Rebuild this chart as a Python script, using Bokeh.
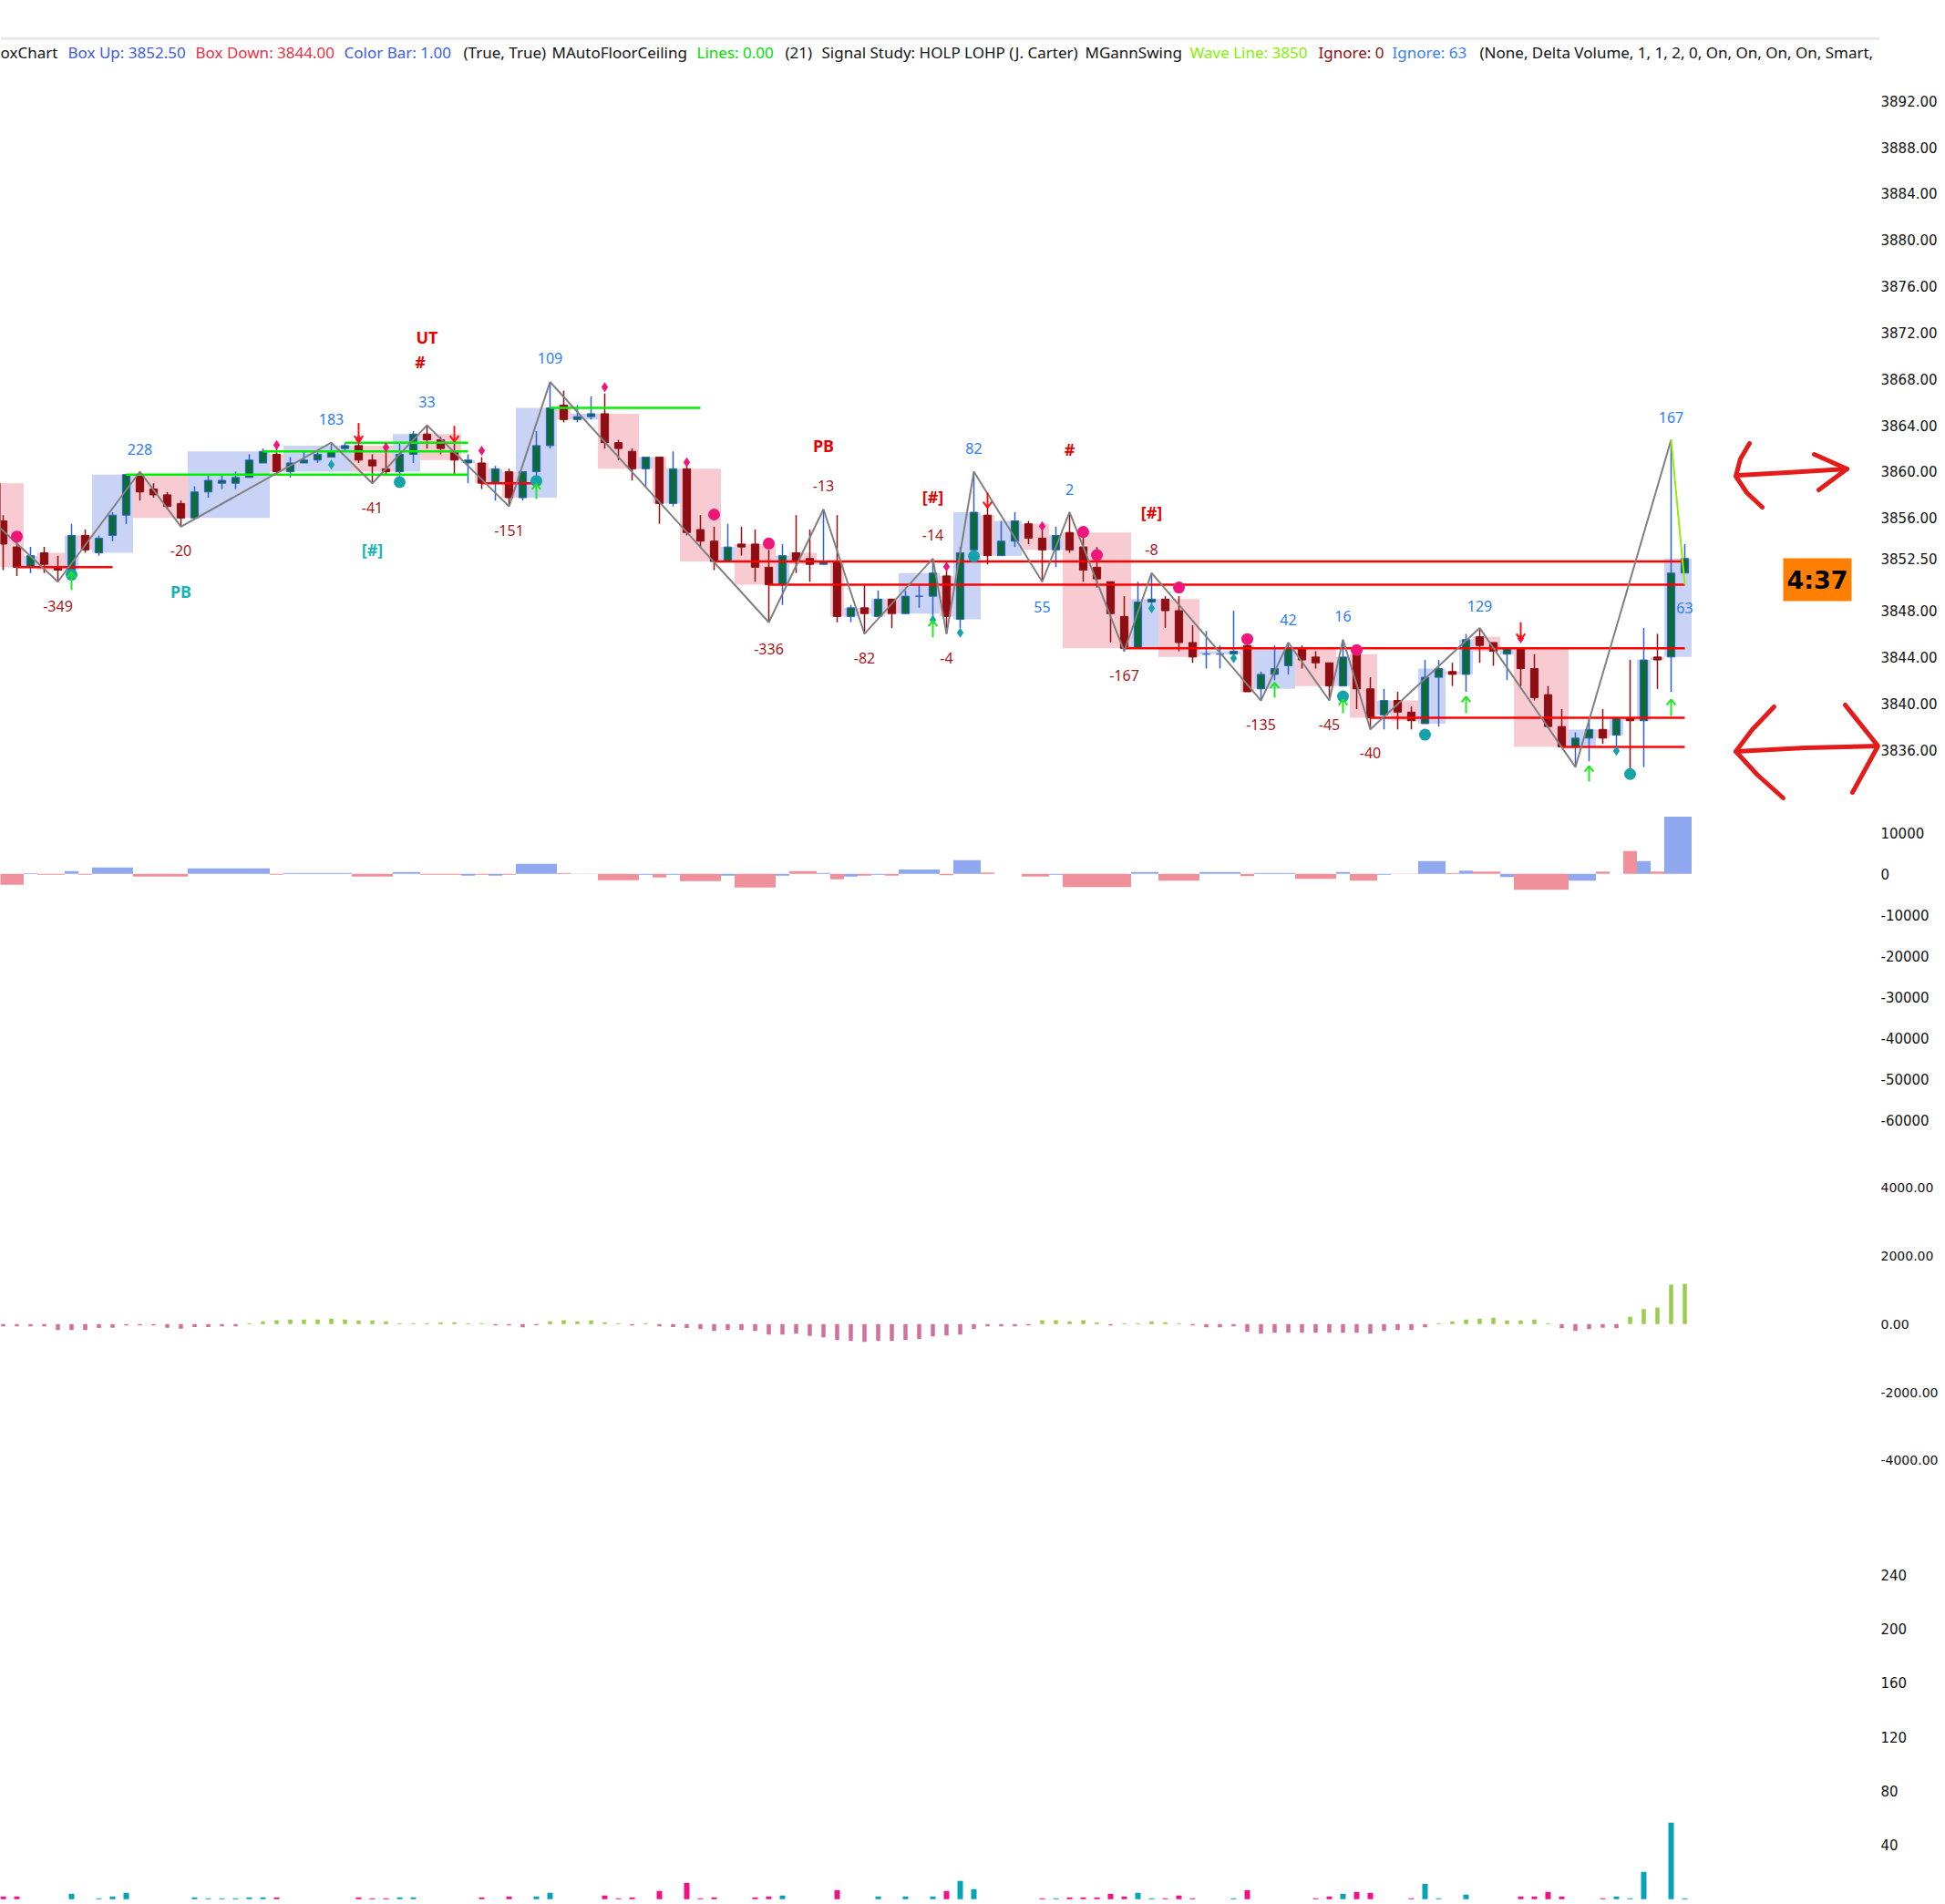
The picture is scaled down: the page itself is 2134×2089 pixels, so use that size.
import numpy as np
from bokeh.plotting import figure
from bokeh.models import Range1d, FixedTicker, PrintfTickFormatter, Span, ColumnDataSource
from bokeh.layouts import column
from bokeh.embed import file_html
from bokeh.resources import INLINE
from bokeh.core.properties import value

# ------------------------------------------------------------------ data
FIRST_BAR = -1   # first candle index (one bar just left of the view)
opens = [3859.0,
 3855.75, 3853.5, 3851.75, 3853.0, 3851.75, 3851.5, 3854.5, 3853.0, 3854.5, 3856.25,
 3859.75, 3858.5, 3858.0, 3857.25, 3856.0, 3858.25, 3859.0, 3859.0, 3859.5, 3860.75,
 3861.5, 3860.0, 3860.75, 3861.0, 3861.25, 3862.0, 3862.25, 3861.0, 3860.25, 3860.0,
 3861.5, 3863.25, 3862.75, 3861.75, 3860.75, 3860.75, 3859.0, 3860.0, 3857.75, 3860.0,
 3862.25, 3865.75, 3864.5, 3864.75, 3865.0, 3862.5, 3861.75, 3860.25, 3861.25, 3857.25,
 3860.25, 3855.0, 3854.0, 3852.25, 3853.75, 3853.75, 3851.75, 3850.25, 3853.0, 3852.5,
 3852.0, 3852.25, 3847.5, 3848.25, 3847.5, 3849.0, 3847.75, 3849.25, 3849.25, 3851.0,
 3847.25, 3853.25, 3856.25, 3852.75, 3854.0, 3855.5, 3854.25, 3853.25, 3854.75, 3853.5,
 3851.75, 3850.5, 3847.5, 3844.75, 3848.75, 3849.0, 3848.0, 3845.25, 3844.25, 3844.25,
 3844.25, 3845.0, 3841.25, 3842.5, 3843.25, 3844.75, 3844.0, 3843.5, 3841.5, 3844.25,
 3841.25, 3839.0, 3840.25, 3839.25, 3838.25, 3842.25, 3842.75, 3842.5, 3845.75, 3845.25,
 3844.25, 3844.75, 3843.0, 3840.75, 3838.0, 3836.25, 3837.0, 3837.75, 3837.25, 3838.75,
 3838.5, 3844.0, 3844.0, 3851.25]
highs = [3859.25,
 3856.25, 3854.0, 3853.5, 3853.5, 3852.75, 3855.5, 3855.0, 3854.5, 3856.5, 3859.75,
 3860.0, 3859.0, 3858.25, 3857.5, 3858.75, 3859.75, 3859.75, 3860.0, 3861.5, 3862.0,
 3862.0, 3861.25, 3861.75, 3861.75, 3862.5, 3862.5, 3862.75, 3861.5, 3862.0, 3862.5,
 3863.5, 3864.0, 3863.0, 3862.5, 3861.5, 3861.25, 3860.5, 3860.25, 3860.0, 3863.5,
 3867.75, 3867.0, 3865.75, 3866.5, 3866.75, 3862.75, 3862.0, 3861.25, 3861.25, 3861.75,
 3860.5, 3856.25, 3855.25, 3855.5, 3855.25, 3855.0, 3853.25, 3853.75, 3856.25, 3855.0,
 3856.75, 3856.25, 3848.5, 3850.25, 3849.75, 3849.0, 3849.75, 3850.25, 3852.5, 3851.5,
 3853.5, 3860.0, 3857.0, 3855.75, 3856.5, 3855.75, 3855.25, 3855.25, 3856.5, 3854.75,
 3853.5, 3850.5, 3849.25, 3850.5, 3851.25, 3849.25, 3849.25, 3846.75, 3846.25, 3845.0,
 3848.0, 3845.25, 3842.75, 3845.0, 3845.25, 3845.0, 3844.5, 3843.5, 3845.5, 3844.5,
 3842.25, 3841.25, 3841.0, 3839.75, 3843.75, 3843.75, 3843.5, 3846.0, 3846.5, 3845.25,
 3844.75, 3844.75, 3844.25, 3841.5, 3839.5, 3837.5, 3838.75, 3839.5, 3838.75, 3843.75,
 3846.5, 3846.0, 3862.75, 3853.75]
lows = [3855.5,
 3851.5, 3851.0, 3851.25, 3851.25, 3850.5, 3851.25, 3853.0, 3852.75, 3854.0, 3855.5,
 3857.5, 3857.75, 3856.75, 3855.25, 3856.0, 3857.75, 3858.5, 3858.5, 3859.5, 3860.75,
 3859.75, 3859.5, 3860.75, 3860.75, 3861.25, 3861.75, 3860.75, 3859.0, 3859.75, 3859.5,
 3860.75, 3862.0, 3861.5, 3859.75, 3859.0, 3858.5, 3857.5, 3857.0, 3857.5, 3859.5,
 3862.0, 3864.25, 3864.25, 3864.5, 3862.0, 3861.0, 3859.25, 3858.75, 3855.5, 3857.0,
 3854.5, 3853.5, 3851.5, 3852.25, 3852.75, 3850.5, 3847.0, 3848.5, 3851.25, 3850.5,
 3852.0, 3847.0, 3847.0, 3846.0, 3847.5, 3846.5, 3847.75, 3848.25, 3847.25, 3846.0,
 3846.5, 3852.75, 3852.0, 3852.75, 3853.5, 3853.75, 3850.5, 3851.75, 3853.0, 3850.5,
 3850.0, 3845.25, 3844.5, 3844.75, 3848.0, 3846.5, 3844.5, 3843.5, 3843.0, 3843.0,
 3844.25, 3841.0, 3840.25, 3842.0, 3842.5, 3843.0, 3843.0, 3840.25, 3841.5, 3839.5,
 3837.75, 3837.75, 3837.75, 3837.75, 3838.25, 3838.0, 3841.5, 3841.0, 3843.5, 3843.25,
 3842.0, 3841.5, 3840.25, 3838.0, 3836.25, 3834.5, 3835.0, 3836.5, 3836.0, 3834.0,
 3834.5, 3841.25, 3841.0, 3851.25]
closes = [3855.75,
 3853.75, 3851.75, 3852.75, 3852.0, 3851.5, 3854.5, 3853.25, 3854.25, 3856.25, 3859.75,
 3858.25, 3858.0, 3857.0, 3856.0, 3858.25, 3859.25, 3859.25, 3859.5, 3861.0, 3861.75,
 3860.0, 3860.75, 3861.0, 3861.5, 3861.75, 3862.25, 3861.0, 3860.5, 3860.0, 3861.5,
 3863.25, 3862.75, 3862.0, 3861.0, 3861.0, 3859.0, 3860.25, 3857.75, 3860.0, 3862.25,
 3865.5, 3864.5, 3864.75, 3865.0, 3862.5, 3862.0, 3860.25, 3861.25, 3857.25, 3860.25,
 3854.75, 3854.0, 3852.25, 3853.5, 3853.5, 3851.75, 3850.25, 3852.75, 3852.25, 3852.0,
 3852.25, 3847.5, 3848.25, 3847.75, 3849.0, 3847.75, 3849.25, 3849.25, 3851.25, 3847.5,
 3853.0, 3856.5, 3852.75, 3854.0, 3855.75, 3854.25, 3853.25, 3854.5, 3853.25, 3851.5,
 3850.75, 3847.75, 3844.75, 3848.75, 3849.0, 3848.0, 3845.25, 3844.0, 3844.25, 3844.25,
 3844.5, 3841.0, 3842.5, 3843.0, 3844.75, 3843.75, 3843.5, 3841.5, 3844.0, 3841.25,
 3838.75, 3840.25, 3839.25, 3838.5, 3842.25, 3843.0, 3842.5, 3845.5, 3845.0, 3844.5,
 3844.75, 3843.0, 3840.5, 3838.0, 3836.25, 3837.0, 3837.75, 3837.0, 3838.75, 3838.5,
 3843.75, 3843.75, 3851.25, 3852.5]

# delta volume of each box (one value per run of same-direction candles)
box_delta = [-2655, 150, -200, 660, -200, 1550, -660, 1330, -200, 220,
             -660, 440, -220, -440, -200, -440, -200, 2430, 220, 50,
             -1550, -200, -880, -200, -1770, -440, -3320, -440, 660, 220,
             -1330, -660, -440, -220, -440, 1070, -300, 3330, 370, 30,
             -670, -200, -3190, 440, -1630, 440, -520, 220, -1190, 440,
             -1630, -220, -30, 3110, 220, 810, 590, -740, -3850, -1630,
             590, 30, 5560, 3110, 590, 13930]

# oscillator histogram, bars 0..123
osc_values = [-71, -71, -71, -71, -178, -178, -178, -115, -107, -44,
              -44, -44, -107, -133, -89, -89, -71, -71, 27, 80,
              115, 133, 133, 133, 160, 133, 107, 107, 80, 27,
              27, 27, 53, 53, 27, 27, -44, -44, -98, -36,
              80, 115, 80, 107, 53, 27, -44, 27, -71, -89,
              -115, -151, -204, -178, -178, -204, -311, -311, -284, -347,
              -391, -471, -498, -524, -498, -498, -471, -444, -364, -338,
              -311, -151, -71, -71, -71, -44, 115, 115, 80, 115,
              53, -44, 27, 27, 80, 53, 27, -44, -98, -98,
              -71, -231, -284, -258, -258, -258, -258, -258, -258, -258,
              -284, -204, -178, -178, -98, 27, 80, 133, 160, 187,
              107, 107, 133, 27, -124, -204, -151, -107, -124, 213,
              436, 489, 1156, 1182]

# lower volume study, bars 0..123, and whether the bar is the "up" colour
vol_values = [2.0, 2.0, 0, 0, 0, 4.0, 0, 0.7, 2.0, 4.7,
              0, 0, 0, 0, 1.35, 0.7, 0.7, 0.7, 1.35, 1.35,
              1.35, 0, 0, 0, 0, 0, 1.35, 0.7, 0.7, 1.35,
              1.35, 0, 0, 0, 0, 1.35, 0, 2.0, 0, 2.0,
              4.7, 0, 0, 0, 2.7, 0.7, 1.35, 0, 6.1, 0,
              12.1, 0.7, 1.35, 0, 0, 1.35, 2.0, 2.7, 0, 0,
              0, 6.7, 0, 0, 2.0, 0, 2.0, 0, 2.0, 6.1,
              13.5, 7.4, 0, 0, 0, 0, 0.7, 0.7, 1.35, 1.35,
              1.35, 4.0, 2.0, 4.7, 0.7, 0.7, 2.7, 0.7, 0, 0,
              0.7, 6.7, 0, 0, 0, 0, 0.7, 2.0, 4.0, 5.4,
              4.7, 0, 0, 0.7, 11.4, 0.7, 0, 3.4, 0, 0,
              0, 2.0, 2.0, 5.4, 2.0, 0, 0, 0.7, 2.0, 0.7,
              20.2, 0, 56.6, 0.7]
vol_up = [0, 0, 0, 0, 0, 1, 0, 1, 1, 1,
          0, 0, 0, 0, 1, 1, 1, 1, 1, 1,
          0, 0, 0, 0, 0, 0, 0, 0, 0, 1,
          1, 0, 0, 0, 0, 0, 0, 0, 0, 1,
          1, 0, 0, 0, 0, 0, 0, 0, 0, 0,
          0, 0, 0, 0, 0, 0, 0, 1, 0, 0,
          0, 0, 0, 0, 1, 0, 1, 0, 1, 0,
          1, 1, 0, 0, 0, 0, 0, 1, 0, 0,
          0, 0, 0, 1, 1, 0, 0, 0, 0, 0,
          1, 0, 0, 0, 0, 0, 0, 0, 1, 0,
          0, 0, 0, 0, 1, 1, 0, 1, 0, 0,
          0, 0, 0, 0, 0, 0, 0, 0, 1, 1,
          1, 0, 1, 1]

# swing (zigzag) points: bar, price
swing_bar = [-1, 4, 10, 13, 24, 27, 31, 37, 40, 56, 60, 63, 68, 69, 71, 76, 78, 82, 84,
             92, 94, 97, 98, 100, 108, 115, 122]
swing_price = [3856.0, 3850.5, 3860.0, 3855.25, 3862.5, 3859.0, 3864.0, 3857.0, 3867.75,
               3847.0, 3856.75, 3846.0, 3852.5, 3846.0, 3860.0, 3850.5, 3856.5, 3844.5,
               3851.25, 3840.25, 3845.25, 3840.25, 3845.5, 3837.75, 3846.5, 3834.5, 3862.75]
wave_bar = [122, 123]
wave_price = [3862.75, 3850.25]

# floor / ceiling lines: start bar, end bar, level
red_start = [1, 35, 52, 56, 82, 100, 114]
red_end = [8, 39, 123, 123, 123, 123, 123]
red_level = [3851.75, 3859.0, 3852.25, 3850.25, 3844.75, 3838.75, 3836.25]
green_start = [9, 19, 25, 40]
green_end = [34, 34, 34, 51]
green_level = [3859.75, 3861.75, 3862.5, 3865.5]

# signal dots
pink_big_bar = [1, 52, 56, 79, 80, 86, 91, 99]
pink_big_price = [3854.4, 3856.3, 3853.8, 3854.8, 3852.8, 3850.0, 3845.55, 3844.6]
pink_small_bar = [20, 26, 28, 35, 44, 50, 69, 76, 111]
pink_small_price = [3862.3, 3862.8, 3862.1, 3861.8, 3867.3, 3860.8, 3851.8, 3855.3, 3845.6]
teal_big_bar = [5, 29, 39, 71, 98, 104, 119]
teal_big_price = [3851.1, 3859.1, 3859.2, 3852.7, 3840.6, 3837.3, 3833.9]
teal_small_bar = [24, 68, 70, 84, 90, 118]
teal_small_price = [3860.6, 3847.2, 3846.1, 3848.2, 3843.9, 3835.9]

# arrows: bar, tip price, tail price
down_bar = [26, 33, 72, 111]
down_tip = [3862.6, 3862.6, 3856.9, 3845.5]
down_tail = [3864.2, 3863.95, 3858.2, 3847.0]
up_bar = [5, 39, 68, 93, 98, 107, 116, 122]
up_tip = [3851.35, 3858.95, 3847.15, 3841.8, 3840.35, 3840.6, 3834.6, 3840.35]
up_tail = [3849.8, 3857.65, 3845.7, 3840.5, 3839.15, 3839.15, 3833.25, 3838.9]

# swing labels
blue_lbl = ["228", "183", "33", "109", "82", "2", "55", "42", "16", "129", "167", "63"]
blue_lbl_bar = [10, 24, 31, 40, 71, 78, 76, 94, 98, 108, 122, 123]
blue_lbl_price = [3861.95, 3864.5, 3866.0, 3869.8, 3862.0, 3858.5, 3848.35, 3847.2,
                  3847.5, 3848.4, 3864.7, 3848.2]
red_lbl = ["-349", "-20", "-41", "-151", "-13", "-336", "-82", "-14", "-4", "-167",
           "-8", "-135", "-45", "-40"]
red_lbl_bar = [4, 13, 27, 37, 60, 56, 63, 68, 69, 82, 84, 92, 97, 100]
red_lbl_price = [3848.4, 3853.2, 3856.9, 3854.9, 3858.75, 3844.7, 3843.95, 3854.5,
                 3843.95, 3842.45, 3853.25, 3838.2, 3838.2, 3835.7]
sig_red = ["UT", "#", "PB", "[#]", "#", "[#]"]
sig_red_bar = [31, 30.5, 60, 68, 78, 84]
sig_red_price = [3871.6, 3869.5, 3862.25, 3857.8, 3861.9, 3856.5]
sig_teal = ["PB", "[#]"]
sig_teal_bar = [13, 27]
sig_teal_price = [3849.65, 3853.25]

price_ticks = [3836, 3840, 3844, 3848, 3852.5, 3856, 3860, 3864, 3868, 3872, 3876,
               3880, 3884, 3888, 3892]
delta_ticks = [10000, 0, -10000, -20000, -30000, -40000, -50000, -60000]
osc_ticks = [4000, 2000, 0, -2000, -4000]
vol_ticks = [40, 80, 120, 160, 200, 240]

HEADER = [("oxChart", 0, "#141414"), ("Box Up: 3852.50", 74, "#3d5ce0"),
          ("Box Down: 3844.00", 214, "#e6334b"), ("Color Bar: 1.00", 377, "#3d5ce0"),
          ("(True, True)", 508, "#141414"), ("MAutoFloorCeiling", 605, "#141414"),
          ("Lines: 0.00", 764, "#00dd00"), ("(21)", 861, "#141414"),
          ("Signal Study: HOLP LOHP (J. Carter)", 901, "#141414"),
          ("MGannSwing", 1190, "#141414"), ("Wave Line: 3850", 1305, "#84f000"),
          ("Ignore: 0", 1446, "#8b1010"), ("Ignore: 63", 1527, "#3a80f0"),
          ("(None, Delta Volume, 1, 1, 2, 0, On, On, On, On, Smart,", 1623, "#141414")]
TIMER_TEXT = "4:37"

# ------------------------------------------------------------------ layout helpers
W = 2130
H_PRICE, H_DELTA, H_OSC, H_VOL = 880, 390, 420, 395
FRAME_RIGHT = 2062
BORDER_R = W - FRAME_RIGHT


def xi(px):   # reference pixel column -> bar index
    return (px - 3.0) / 15.0


def yp(py):   # reference pixel row -> price
    return 3892.0 - (py - 110.24) / 12.711


xr = Range1d(xi(0), xi(FRAME_RIGHT))


def make_fig(h, yr, ticks, fmt, fsize):
    f = figure(width=W, height=h, x_range=xr, y_range=yr, output_backend="svg",
               toolbar_location=None, title=None, x_axis_location=None,
               y_axis_location="right", min_border_left=0, min_border_right=BORDER_R,
               min_border_top=0, min_border_bottom=0, outline_line_color=None,
               background_fill_color="white", border_fill_color="white")
    f.grid.visible = False
    ax = f.yaxis[0]
    ax.ticker = FixedTicker(ticks=ticks)
    ax.formatter = PrintfTickFormatter(format=fmt)
    ax.axis_line_color = None
    ax.major_tick_line_color = None
    ax.minor_tick_line_color = None
    ax.major_tick_out = 0
    ax.major_label_standoff = 1
    ax.major_label_text_font = "DejaVu Sans"
    ax.major_label_text_font_size = fsize
    ax.major_label_text_color = "#111111"
    return f


FONT = value("Noto Sans")

# ------------------------------------------------------------------ price panel
p = make_fig(H_PRICE, Range1d(yp(H_PRICE), yp(0)), price_ticks, "%.2f", "15px")

o = np.array(opens); h = np.array(highs); l = np.array(lows); c = np.array(closes)
bars = np.arange(FIRST_BAR, FIRST_BAR + len(o))
up = c >= o

# runs of same-direction candles -> boxes
runs = []
s = 0
for k in range(1, len(o) + 1):
    if k == len(o) or up[k] != up[s]:
        runs.append((s, k - 1))
        s = k
bx = dict(left=[], right=[], top=[], bottom=[], color=[], dcolor=[], dtop=[], dbot=[])
for j, (a, b) in enumerate(runs):
    bx["left"].append(bars[a] - 0.5)
    bx["right"].append(bars[b] + 0.5)
    bx["top"].append(float(np.maximum(o[a:b + 1], c[a:b + 1]).max()))
    bx["bottom"].append(float(np.minimum(o[a:b + 1], c[a:b + 1]).min()))
    bx["color"].append("#c9d3f6" if up[a] else "#f7cbd1")
    bx["dcolor"].append("#8fa8f0" if up[a] else "#f0909a")
    d = box_delta[j] if j < len(box_delta) else 0
    bx["dtop"].append(max(d, 0))
    bx["dbot"].append(min(d, 0))
src_box = ColumnDataSource(bx)
p.quad(left="left", right="right", top="top", bottom="bottom", fill_color="color",
       line_color=None, source=src_box)

# header
p.add_layout(Span(location=yp(41.7), dimension="width", line_color="#e8e8e8", line_width=3))
for txt, px, col in HEADER:
    p.text(x=[xi(px)], y=[yp(56.5)], text=[txt], text_font=FONT, text_font_size="17px",
           text_color=col, text_align="left", text_baseline="middle")

# candles
wick_col = np.where(up, "#2f5fd6", "#8e0e13").tolist()
fill_col = np.where(up, "#0b6b3b", "#8e0e13").tolist()
line_col = np.where(up, "#2f5fd6", "#8e0e13").tolist()
p.segment(x0=bars, y0=l, x1=bars, y1=h, line_color=wick_col, line_width=1.5)
p.vbar(x=bars, width=0.55, top=np.maximum(o, c), bottom=np.minimum(o, c),
       fill_color=fill_col, line_color=line_col, line_width=1)

# floor/ceiling lines
p.segment(x0=green_start, x1=green_end, y0=green_level, y1=green_level,
          line_color="#00f000", line_width=2.5)
p.segment(x0=red_start, x1=red_end, y0=red_level, y1=red_level,
          line_color="#ff0000", line_width=2.5)

# zigzag
p.line(swing_bar, swing_price, line_color="#808080", line_width=2)
p.line(wave_bar, wave_price, line_color="#8cf000", line_width=2)

# dots
p.scatter(pink_big_bar, pink_big_price, marker="circle", size=13, fill_color="#f0157a", line_color=None)
p.scatter(pink_small_bar, pink_small_price, marker="diamond", size=11, fill_color="#f0157a", line_color=None)
p.scatter(teal_big_bar, teal_big_price, marker="circle", size=13, fill_color="#14a3aa", line_color=None)
p.scatter(teal_small_bar, teal_small_price, marker="diamond", size=11, fill_color="#14a3aa", line_color=None)

# arrows
HW, HL = 0.32, 0.5
db = np.array(down_bar, float); dt = np.array(down_tip); dl = np.array(down_tail)
p.segment(x0=db, y0=dl, x1=db, y1=dt, line_color="#ff1010", line_width=2)
p.segment(x0=np.r_[db - HW, db + HW], y0=np.r_[dt + HL, dt + HL], x1=np.r_[db, db],
          y1=np.r_[dt, dt], line_color="#ff1010", line_width=2)
ub = np.array(up_bar, float); ut = np.array(up_tip); ul = np.array(up_tail)
p.segment(x0=ub, y0=ul, x1=ub, y1=ut, line_color="#22e622", line_width=2)
p.segment(x0=np.r_[ub - HW, ub + HW], y0=np.r_[ut - HL, ut - HL], x1=np.r_[ub, ub],
          y1=np.r_[ut, ut], line_color="#22e622", line_width=2)

# labels
p.text(x=blue_lbl_bar, y=blue_lbl_price, text=blue_lbl, text_font=FONT, text_font_size="16px",
       text_color="#2b7df0", text_align="center", text_baseline="middle")
p.text(x=red_lbl_bar, y=red_lbl_price, text=red_lbl, text_font=FONT, text_font_size="16px",
       text_color="#a5161b", text_align="center", text_baseline="middle")
p.text(x=sig_red_bar, y=sig_red_price, text=sig_red, text_font=FONT, text_font_size="18px",
       text_font_style="bold", text_color="#e60000", text_align="center", text_baseline="middle")
p.text(x=sig_teal_bar, y=sig_teal_price, text=sig_teal, text_font=FONT, text_font_size="18px",
       text_font_style="bold", text_color="#19b4b4", text_align="center", text_baseline="middle")

# countdown box
p.quad(left=[xi(1956)], right=[xi(2031)], top=[yp(612)], bottom=[yp(659)],
       fill_color="#ff8000", line_color=None)
p.text(x=[xi(1993.5)], y=[yp(636)], text=[TIMER_TEXT], text_font=value("DejaVu Sans"),
       text_font_size="27px", text_font_style="bold", text_color="black",
       text_align="center", text_baseline="middle")

# hand-drawn double arrows (reference pixel strokes)
STROKES = [
    [(1919, 486), (1909, 503), (1904, 522), (1916, 540), (1933, 556)],
    [(1906, 521), (1960, 518), (2026, 514)],
    [(1990, 498), (2026, 514), (1995, 537)],
    [(1946, 775), (1922, 800), (1904, 824), (1928, 850), (1956, 875)],
    [(1904, 824), (1980, 820), (2060, 818)],
    [(2024, 773), (2060, 818), (2032, 869)],
]
p.multi_line(xs=[[xi(a) for a, b in s_] for s_ in STROKES],
             ys=[[yp(b) for a, b in s_] for s_ in STROKES],
             line_color="#e31b1b", line_width=5, line_cap="round", line_join="round")

# ------------------------------------------------------------------ delta panel
pd_ = make_fig(H_DELTA, Range1d(-69098, 17358), delta_ticks, "%d", "15px")
pd_.quad(left="left", right="right", top="dtop", bottom="dbot", fill_color="dcolor",
         line_color=None, source=src_box)

# ------------------------------------------------------------------ oscillator panel
po = make_fig(H_OSC, Range1d(-6354, 4868), osc_ticks, "%.2f", "14px")
ob = np.arange(0, len(osc_values))
ov = np.array(osc_values, float)
po.vbar(x=ob, width=0.3, top=np.maximum(ov, 0), bottom=np.minimum(ov, 0),
        fill_color=np.where(ov >= 0, "#9ccc4e", "#d0709f").tolist(), line_color=None)

# ------------------------------------------------------------------ volume panel
pv = make_fig(H_VOL, Range1d(-1.2, 265.0), vol_ticks, "%d", "15px")
vb = np.arange(0, len(vol_values))
pv.vbar(x=vb, width=0.4, top=vol_values, bottom=0,
        fill_color=["#05a3b5" if u else "#ee1289" for u in vol_up], line_color=None)

layout = column(p, pd_, po, pv, spacing=0)
open("out.html", "w").write(file_html(layout, INLINE, title="chart"))
